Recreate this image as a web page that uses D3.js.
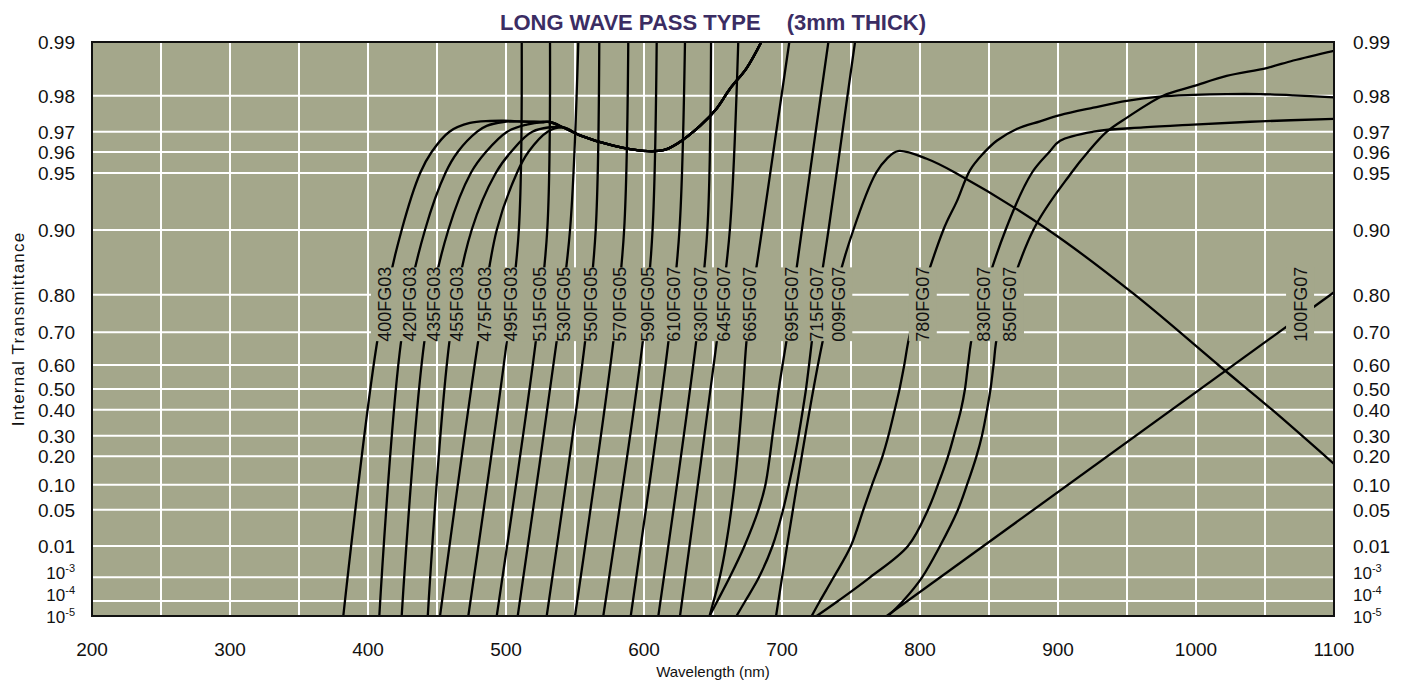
<!DOCTYPE html>
<html>
<head>
<meta charset="utf-8">
<script src="https://cdn.jsdelivr.net/npm/d3@7/dist/d3.min.js"></script>
<style>
  body { margin: 0; background: #fff; }
  .narrow { font-family: "Liberation Sans Narrow", "Arial Narrow", "Liberation Sans", Arial, sans-serif; }
  .plain { font-family: "Liberation Sans", Arial, sans-serif; }
</style>
</head>
<body>
<svg id="chart" width="1404" height="681"></svg>
<script>
// ---- axis values ----
const xTicks = [200, 300, 400, 500, 600, 700, 800, 900, 1000, 1100];
const xGrid = d3.range(250, 1100, 50);
const yTicks = [0.99, 0.98, 0.97, 0.96, 0.95, 0.90, 0.80, 0.70, 0.60, 0.50, 0.40, 0.30, 0.20, 0.10, 0.05, 0.01, 1e-3, 1e-4, 1e-5];
const yTickText = ['0.99', '0.98', '0.97', '0.96', '0.95', '0.90', '0.80', '0.70', '0.60', '0.50', '0.40', '0.30', '0.20', '0.10', '0.05', '0.01', '10|-3', '10|-4', '10|-5'];
// where the printed chart puts each grid line (px below the top of the plot)
const yTickPos = [0, 53.7, 89.7, 110, 131, 188, 252.7, 290.3, 323, 347, 367.7, 393.7, 414.3, 442.7, 467.7, 504, 535.3, 559, 574];

// ---- curves: [wavelength nm, internal transmittance] ----
const fg03Tail = [[527.0, 0.9731], [531.9, 0.9731], [541.5, 0.9714], [553.6, 0.9684], [577.8, 0.9634], [599.5, 0.9606],
  [614.0, 0.9610], [623.7, 0.9643], [640.6, 0.9719], [652.7, 0.9769], [662.3, 0.9817], [674.4, 0.9860], [685.0, 0.99]];

const c400 = [[382.1, 1e-5], [407.8, 0.70], [424.4, 0.90], [437.8, 0.95], [446.1, 0.96], [459.0, 0.97], [473.9, 0.9728], [488.4, 0.9734], [498.0, 0.9735], [507.8, 0.9733]].concat(fg03Tail);
const c420 = [[408.2, 1e-5], [424.9, 0.70], [441.3, 0.90], [456.1, 0.95], [465.0, 0.96], [479.1, 0.97], [486.0, 0.9719], [498.0, 0.9731], [507.8, 0.9733]].concat(fg03Tail);
const c435 = [[424.4, 1e-5], [441.8, 0.70], [458.2, 0.90], [474.5, 0.95], [485.4, 0.96], [500.9, 0.97], [515.0, 0.9723]].concat(fg03Tail);
const c455 = [[443.3, 1e-5], [459.9, 0.70], [475.1, 0.90], [492.6, 0.95], [503.6, 0.96], [519.1, 0.97]].concat(fg03Tail.slice(2));
const c475 = [[452.2, 1e-5], [480.8, 0.70], [493.3, 0.90], [507.9, 0.95], [516.2, 0.96], [530.2, 0.97]].concat(fg03Tail.slice(2));
const c495 = [[472.7, 1e-5], [501.4, 0.70], [509.3, 0.90], [511.4, 0.99]];
const c515 = [[493.3, 1e-5], [522.4, 0.70], [529.9, 0.90], [531.9, 0.99]];
const c530 = [[508.5, 1e-5], [537.6, 0.70], [546.4, 0.90], [552.4, 0.99]];
const c550 = [[529.5, 1e-5], [558.1, 0.70], [565.0, 0.90], [567.6, 0.99]];
const c570 = [[550.0, 1e-5], [578.6, 0.70], [585.6, 0.90], [588.6, 0.99]];
const c590 = [[570.5, 1e-5], [599.9, 0.70], [606.2, 0.90], [609.2, 0.99]];
const c610 = [[590.4, 1e-5], [618.5, 0.70], [625.7, 0.90], [629.7, 0.99]];
const c630 = [[610.4, 1e-5], [638.6, 0.70], [645.9, 0.90], [648.6, 0.99]];
const c645 = [[626.1, 1e-5], [653.6, 0.70], [662.2, 0.90], [668.3, 0.99]];
const c665 = [[647.5, 1e-5], [654.9, 1e-3], [659.3, 0.01], [665.6, 0.10], [669.1, 0.30], [671.8, 0.50], [674.9, 0.70], [685.5, 0.90], [705.3, 0.99]];
const c695 = [[647.5, 1e-5], [653.2, 1e-4], [662.1, 1e-3], [672.8, 0.01], [683.0, 0.05], [688.0, 0.10], [691.2, 0.20], [693.1, 0.30],
  [695.7, 0.40], [697.7, 0.50], [700.4, 0.60], [704.2, 0.70], [714.4, 0.90], [733.6, 0.99]];
const c715 = [[667.0, 1e-5], [673.4, 1e-4], [683.3, 1e-3], [693.1, 0.01], [700.8, 0.05], [705.0, 0.10], [709.3, 0.20], [712.0, 0.30],
  [715.1, 0.40], [717.4, 0.50], [719.6, 0.60], [722.5, 0.70], [733.7, 0.90], [752.9, 0.99]];
const c009 = [[695.7, 1e-5], [730.9, 0.70], [751.7, 0.90], [768.1, 0.95], [775.9, 0.957], [784.1, 0.9605], [804.9, 0.957], [825.9, 0.95],
  [893.0, 0.90], [955.6, 0.80], [1016.2, 0.60], [1055.1, 0.40], [1100, 0.17]];
const c780 = [[721.5, 1e-5], [727.5, 1e-4], [737.4, 1e-3], [749.9, 0.01], [759.0, 0.05], [765.3, 0.10], [772.8, 0.20], [777.1, 0.30],
  [781.7, 0.40], [785.2, 0.50], [788.6, 0.60], [793.0, 0.70], [816.9, 0.90], [826.6, 0.929], [836.2, 0.9514], [845.9, 0.9594],
  [855.6, 0.9659], [870.1, 0.9709], [887.0, 0.9733], [901.5, 0.9751], [925.6, 0.9771], [949.8, 0.9788], [973.9, 0.9798],
  [998.1, 0.9802], [1022.2, 0.9804], [1046.4, 0.9804], [1070.5, 0.9801], [1100, 0.9796]];
const c830 = [[725.1, 1e-5], [740.6, 1e-4], [763.8, 1e-3], [791.3, 0.01], [805.8, 0.05], [813.0, 0.10], [820.3, 0.20], [824.6, 0.30],
  [829.7, 0.40], [832.6, 0.50], [834.8, 0.60], [838.4, 0.70], [862.0, 0.90], [881.0, 0.95], [893.7, 0.96], [901.5, 0.9659],
  [925.6, 0.97], [961.8, 0.9714], [998.1, 0.9723], [1046.4, 0.9733], [1100, 0.974]];
const c850 = [[776.8, 1e-5], [787.7, 1e-4], [801.5, 1e-3], [814.5, 0.01], [827.5, 0.05], [834.1, 0.10], [840.9, 0.20], [844.9, 0.30],
  [848.6, 0.40], [851.1, 0.50], [853.3, 0.60], [856.5, 0.70], [882.1, 0.90], [909.6, 0.95], [921.7, 0.96], [935.4, 0.97],
  [950.0, 0.9744], [976.1, 0.98], [998.1, 0.9823], [1022.2, 0.9845], [1051.2, 0.986], [1070.5, 0.9873], [1100, 0.9888]];
const c100 = [[775.9, 1e-5], [1100, 0.805]];

const seriesData = [c400, c420, c435, c455, c475, c495, c515, c530, c550, c570, c590, c610, c630, c645, c665, c695, c715, c009, c780, c830, c850, c100];

// curve labels and the wavelength at which each is printed
const labelText = ['400FG03', '420FG03', '435FG03', '455FG03', '475FG03', '495FG03', '515FG05', '530FG05', '550FG05', '570FG05', '590FG05',
  '610FG07', '630FG07', '645FG07', '665FG07', '695FG07', '715FG07', '009FG07', '780FG07', '830FG07', '850FG07', '100FG07'];
const labelNm = [412.3, 430.4, 447.3, 464.3, 484.1, 503.6, 524.6, 541.5, 560.9, 582.1, 602.7, 621.2, 641.1, 657.5, 676.1, 707.0, 725.1, 740.8,
  802.0, 845.9, 865.2, 1075.4];

// ---- layout ----
const pLeft = 92, pRight = 1334, pTop = 42, pBottom = 616;
const bg = '#a4a78b';
// the printed 10^-n labels sit a little off their grid lines
const tickNudge = yTicks.map(t => t === 1e-3 ? -4 : t === 1e-4 ? -6 : t === 1e-5 ? 1 : 0);

const svg = d3.select('#chart');

let x = d3.scaleLinear()
  .domain([200, 1100])
  .range([pLeft, pRight]);

// probability-type axis: linear in log(-log T), pinned to the printed grid
const vT = t => Math.log10(-Math.log10(t));
let yv = d3.scaleLinear()
  .domain(yTicks.map(vT))
  .range(yTickPos.map(p => pTop + p));
const y = t => yv(vT(t));

svg.append('defs').append('clipPath')
  .attr('id', 'plot_clip')
  .append('rect')
  .attr('x', pLeft).attr('y', pTop)
  .attr('width', pRight - pLeft).attr('height', pBottom - pTop);

svg.append('rect')
  .attr('x', pLeft).attr('y', pTop)
  .attr('width', pRight - pLeft).attr('height', pBottom - pTop)
  .attr('fill', bg);

// grid
let grid = svg.append('g').attr('class', 'grid');
grid.selectAll('.vgrid')
  .data(xGrid).enter()
  .append('line')
  .attr('class', 'vgrid')
  .attr('x1', d => x(d)).attr('x2', d => x(d))
  .attr('y1', pTop).attr('y2', pBottom)
  .attr('stroke', '#fff').attr('stroke-width', 2);

grid.selectAll('.hgrid')
  .data(yTicks.slice(1, -1)).enter()
  .append('line')
  .attr('class', 'hgrid')
  .attr('x1', pLeft).attr('x2', pRight)
  .attr('y1', d => y(d)).attr('y2', d => y(d))
  .attr('stroke', '#fff').attr('stroke-width', 2);

// curves
let line = d3.line()
  .x(d => x(d[0]))
  .y(d => y(d[1]))
  .curve(d3.curveCatmullRom.alpha(0.5));

svg.append('g')
  .attr('clip-path', 'url(#plot_clip)')
  .selectAll('.curve')
  .data(seriesData).enter()
  .append('path')
  .attr('class', 'curve')
  .attr('d', line)
  .attr('fill', 'none')
  .attr('stroke', '#000')
  .attr('stroke-width', 2.3)
  .attr('stroke-linejoin', 'round');

// label band: curves and grid are knocked out behind the labels
const bandTop = y(0.85), bandBot = y(0.675), labelY = (bandTop + bandBot) / 2;
let groups = [];
labelNm.map(x).forEach(px => {
  let g = groups[groups.length - 1];
  if (g && px - g[1] < 50) g[1] = px;
  else groups.push([px, px]);
});
svg.selectAll('.knock')
  .data(groups).enter()
  .append('rect')
  .attr('class', 'knock')
  .attr('x', d => d[0] - 14)
  .attr('width', d => d[1] - d[0] + 28)
  .attr('y', bandTop)
  .attr('height', bandBot - bandTop)
  .attr('fill', bg);

svg.selectAll('.clabel')
  .data(labelText).enter()
  .append('text')
  .attr('class', 'clabel narrow')
  .attr('transform', (d, i) => `translate(${x(labelNm[i])},${labelY}) rotate(-90)`)
  .attr('text-anchor', 'middle')
  .attr('dy', '0.36em')
  .attr('font-size', 18)
  .attr('fill', '#111')
  .text(d => d);

// frame
svg.append('rect')
  .attr('x', pLeft).attr('y', pTop)
  .attr('width', pRight - pLeft).attr('height', pBottom - pTop)
  .attr('fill', 'none')
  .attr('stroke', '#111')
  .attr('stroke-width', 2);

// y tick labels on both sides
function tickLabel(sel) {
  sel.each(function(d) {
    let t = d3.select(this),
      parts = d.split('|');
    t.append('tspan').text(parts[0]);
    if (parts.length > 1) {
      t.attr('font-size', 17);
      t.append('tspan')
        .attr('font-size', 11)
        .attr('dy', -7)
        .text(parts[1]);
    }
  });
}

[[pLeft - 17, 'end'], [pRight + 19, 'start']].forEach(([px, anchor]) => {
  svg.selectAll(null)
    .data(yTickText).enter()
    .append('text')
    .attr('class', 'narrow')
    .attr('x', px)
    .attr('y', (d, i) => y(yTicks[i]) + tickNudge[i])
    .attr('dy', '0.36em')
    .attr('text-anchor', anchor)
    .attr('font-size', 19)
    .attr('fill', '#111')
    .call(tickLabel);
});

svg.selectAll('.xtick')
  .data(xTicks).enter()
  .append('text')
  .attr('class', 'xtick narrow')
  .attr('x', d => x(d))
  .attr('y', pBottom + 40)
  .attr('text-anchor', 'middle')
  .attr('font-size', 19)
  .attr('fill', '#111')
  .text(d => d);

// titles
svg.append('text')
  .attr('class', 'plain')
  .attr('x', (pLeft + pRight) / 2)
  .attr('y', pBottom + 61)
  .attr('text-anchor', 'middle')
  .attr('font-size', 15)
  .attr('fill', '#111')
  .text('Wavelength (nm)');

svg.append('text')
  .attr('class', 'plain')
  .attr('transform', `translate(24,${(pTop + pBottom) / 2}) rotate(-90)`)
  .attr('text-anchor', 'middle')
  .attr('font-size', 17)
  .attr('letter-spacing', 1.2)
  .attr('fill', '#111')
  .text('Internal Transmittance');

let title = svg.append('text')
  .attr('class', 'narrow')
  .attr('x', (pLeft + pRight) / 2)
  .attr('y', 30)
  .attr('text-anchor', 'middle')
  .attr('font-size', 22)
  .attr('font-weight', 'bold')
  .attr('fill', '#3b2d63');
title.append('tspan').text('LONG WAVE PASS TYPE');
title.append('tspan').attr('dx', 26).text('(3mm THICK)');
</script>
</body>
</html>
